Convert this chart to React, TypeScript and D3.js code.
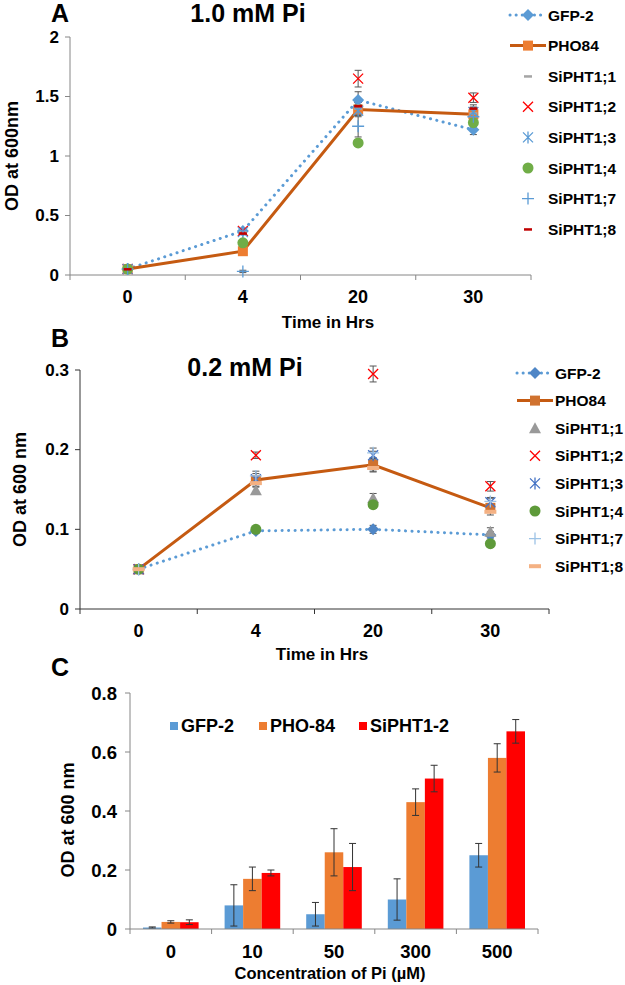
import React from "react";
import * as d3 from "d3";

const FONT = "'Liberation Sans', Arial, sans-serif";

// Panels A & B: time categories
const timeCats = ["0", "4", "20", "30"];
const seriesNames = ["GFP-2", "PHO84", "SiPHT1;1", "SiPHT1;2", "SiPHT1;3", "SiPHT1;4", "SiPHT1;7", "SiPHT1;8"];

// Panel A (1.0 mM Pi)
const aGFP = [0.05, 0.37, 1.47, 1.22];
const aGFPErr = [0.01, 0.02, 0.07, 0.04];
const aPHO = [0.05, 0.2, 1.39, 1.35];
const aPHOErr = [0.01, 0.01, 0.04, 0.03];
const aS1 = [0.05, 0.36, 1.4, 1.36];
const aS1Err = [0.01, 0.02, 0.05, 0.05];
const aS2 = [0.05, 0.37, 1.65, 1.49];
const aS2Err = [0.01, 0.02, 0.07, 0.04];
const aS3 = [0.05, 0.36, 1.38, 1.37];
const aS3Err = [0.01, 0.02, 0.05, 0.04];
const aS4 = [0.05, 0.27, 1.11, 1.28];
const aS4Err = [0.01, 0.01, 0.02, 0.03];
const aS7 = [0.05, 0.03, 1.25, 1.33];
const aS7Err = [0.01, 0.01, 0.09, 0.04];
const aS8 = [0.05, 0.35, 1.42, 1.4];
const aS8Err = [0.01, 0.01, 0.03, 0.03];
const aTicks = [0, 0.5, 1, 1.5, 2];

// Panel B (0.2 mM Pi)
const bGFP = [0.05, 0.098, 0.1, 0.093];
const bGFPErr = [0.002, 0.002, 0.005, 0.004];
const bPHO = [0.05, 0.162, 0.181, 0.127];
const bPHOErr = [0.002, 0.005, 0.008, 0.005];
const bS1 = [0.05, 0.149, 0.139, 0.097];
const bS1Err = [0.002, 0.004, 0.006, 0.005];
const bS2 = [0.05, 0.193, 0.295, 0.154];
const bS2Err = [0.002, 0.004, 0.01, 0.006];
const bS3 = [0.05, 0.163, 0.193, 0.134];
const bS3Err = [0.002, 0.007, 0.005, 0.006];
const bS4 = [0.05, 0.1, 0.131, 0.082];
const bS4Err = [0.002, 0.002, 0.004, 0.002];
const bS7 = [0.05, 0.167, 0.196, 0.135];
const bS7Err = [0.002, 0.006, 0.006, 0.004];
const bS8 = [0.05, 0.158, 0.177, 0.122];
const bS8Err = [0.002, 0.004, 0.005, 0.004];
const bTicks = [0, 0.1, 0.2, 0.3];

// Panel C
const concCats = ["0", "10", "50", "300", "500"];
const barSeries = ["GFP-2", "PHO-84", "SiPHT1-2"];
const cGFP = [0.005, 0.08, 0.05, 0.1, 0.25];
const cGFPErr = [0.002, 0.07, 0.04, 0.07, 0.04];
const cPHO = [0.024, 0.17, 0.26, 0.43, 0.58];
const cPHOErr = [0.004, 0.04, 0.08, 0.045, 0.048];
const cSi = [0.023, 0.19, 0.21, 0.51, 0.67];
const cSiErr = [0.008, 0.01, 0.08, 0.045, 0.04];
const cTicks = [0, 0.2, 0.4, 0.6, 0.8];
const barColors = ["#5B9BD5", "#ED7D31", "#FF0000"];

type Style = { kind: string; color: string; line?: string; dotted?: boolean };

const stylesA: Style[] = [
  { kind: "diamond", color: "#5B9BD5", line: "#5B9BD5", dotted: true },
  { kind: "square", color: "#ED7D31", line: "#C55A11" },
  { kind: "dash", color: "#A5A5A5" },
  { kind: "x", color: "#FF0000" },
  { kind: "star", color: "#5B9BD5" },
  { kind: "circle", color: "#70AD47" },
  { kind: "plus", color: "#5B9BD5" },
  { kind: "dash", color: "#C00000" },
];
const stylesB: Style[] = [
  { kind: "diamond", color: "#4F86C6", line: "#5B9BD5", dotted: true },
  { kind: "square", color: "#D0722F", line: "#C55A11" },
  { kind: "triangle", color: "#999999" },
  { kind: "x", color: "#FF0000" },
  { kind: "star", color: "#4472C4" },
  { kind: "circle", color: "#5E9A3A" },
  { kind: "plus", color: "#9DC3E6" },
  { kind: "bigdash", color: "#F4B183" },
];

function Marker({ kind, color, x, y }: { kind: string; color: string; x: number; y: number }) {
  switch (kind) {
    case "diamond":
      return <path d={`M${x},${y - 6}L${x + 6},${y}L${x},${y + 6}L${x - 6},${y}Z`} fill={color} />;
    case "square":
      return <rect x={x - 5} y={y - 5} width={10} height={10} fill={color} />;
    case "circle":
      return <circle cx={x} cy={y} r={5.5} fill={color} />;
    case "triangle":
      return <path d={`M${x},${y - 6}L${x + 6},${y + 5}L${x - 6},${y + 5}Z`} fill={color} />;
    case "x":
      return <path d={`M${x - 5},${y - 5}L${x + 5},${y + 5}M${x + 5},${y - 5}L${x - 5},${y + 5}`} stroke={color} strokeWidth={1.3} />;
    case "plus":
      return <path d={`M${x - 6},${y}L${x + 6},${y}M${x},${y - 6}L${x},${y + 6}`} stroke={color} strokeWidth={1.3} />;
    case "star":
      return (
        <path
          d={`M${x - 5},${y - 5}L${x + 5},${y + 5}M${x + 5},${y - 5}L${x - 5},${y + 5}M${x},${y - 6}L${x},${y + 6}`}
          stroke={color}
          strokeWidth={1.3}
        />
      );
    case "dash":
      return <rect x={x - 4} y={y - 1} width={8} height={2.5} fill={color} />;
    case "bigdash":
      return <rect x={x - 6} y={y - 2} width={12} height={4} fill={color} />;
    default:
      return null;
  }
}

type LinePanelProps = {
  label: string;
  title: string;
  titleX: number;
  titleY: number;
  labelY: number;
  values: number[][];
  errors: number[][];
  styles: Style[];
  x0: number;
  x1: number;
  yTop: number;
  yBottom: number;
  yMax: number;
  ticks: number[];
  axisColor: string;
  yTitle: string;
  yTitleX: number;
  xTitleX: number;
  xTitleY: number;
  legendX: number;
  legendY: number;
  legendStep: number;
};

function LinePanel(p: LinePanelProps) {
  const x = d3.scaleBand<string>().domain(timeCats).range([p.x0, p.x1]).padding(0);
  const y = d3.scaleLinear().domain([0, p.yMax]).range([p.yBottom, p.yTop]);
  const cx = (c: string) => (x(c) as number) + x.bandwidth() / 2;
  const line = d3
    .line<number>()
    .x((_, i) => cx(timeCats[i]))
    .y((d) => y(d));
  const boundaries = [...timeCats.map((c) => x(c) as number), p.x1];
  const legendTextX = p.legendX + 38;
  return (
    <g>
      <text x={60} y={p.labelY} fontSize={25} fontWeight="bold" textAnchor="middle" dominantBaseline="central">
        {p.label}
      </text>
      <text x={p.titleX} y={p.titleY} fontSize={25} fontWeight="bold" textAnchor="middle" dominantBaseline="central">
        {p.title}
      </text>
      {/* axes */}
      <line x1={p.x0} x2={p.x0} y1={p.yTop} y2={p.yBottom} stroke={p.axisColor} strokeWidth={1} />
      <line x1={p.x0} x2={p.x1} y1={p.yBottom} y2={p.yBottom} stroke={p.axisColor} strokeWidth={1} />
      {p.ticks.map((t) => (
        <g key={t}>
          <line x1={p.x0 - 5} x2={p.x0} y1={y(t)} y2={y(t)} stroke={p.axisColor} />
          <text x={p.x0 - 11} y={y(t)} fontSize={17} fontWeight="bold" textAnchor="end" dominantBaseline="central">
            {t}
          </text>
        </g>
      ))}
      {boundaries.map((b, i) => (
        <line key={i} x1={b} x2={b} y1={p.yBottom} y2={p.yBottom + 5} stroke={p.axisColor} />
      ))}
      {timeCats.map((c) => (
        <text key={c} x={cx(c)} y={p.yBottom + 22} fontSize={18} fontWeight="bold" textAnchor="middle" dominantBaseline="central">
          {c}
        </text>
      ))}
      <text x={p.xTitleX} y={p.xTitleY} fontSize={17} fontWeight="bold" textAnchor="middle" dominantBaseline="central">
        Time in Hrs
      </text>
      <text
        transform={`translate(${p.yTitleX},${(p.yTop + p.yBottom) / 2}) rotate(-90)`}
        fontSize={18}
        fontWeight="bold"
        textAnchor="middle"
        dominantBaseline="central"
      >
        {p.yTitle}
      </text>
      {/* lines */}
      {p.values.map((vals, si) =>
        p.styles[si].line ? (
          <path
            key={"l" + si}
            d={line(vals) as string}
            fill="none"
            stroke={p.styles[si].line}
            strokeWidth={3}
            strokeDasharray={p.styles[si].dotted ? "0.1 6.4" : undefined}
            strokeLinecap={p.styles[si].dotted ? "round" : "butt"}
          />
        ) : null
      )}
      {/* error bars */}
      {p.values.map((vals, si) =>
        vals.map((v, i) => {
          const e = p.errors[si][i];
          const xx = cx(timeCats[i]);
          return (
            <path
              key={`e${si}-${i}`}
              d={`M${xx},${y(v - e)}V${y(v + e)}M${xx - 3.5},${y(v - e)}H${xx + 3.5}M${xx - 3.5},${y(v + e)}H${xx + 3.5}`}
              stroke="#555"
              strokeWidth={1}
              fill="none"
            />
          );
        })
      )}
      {/* markers */}
      {p.values.map((vals, si) =>
        vals.map((v, i) => (
          <Marker key={`m${si}-${i}`} kind={p.styles[si].kind} color={p.styles[si].color} x={cx(timeCats[i])} y={y(v)} />
        ))
      )}
      {/* legend */}
      {seriesNames.map((n, i) => {
        const ly = p.legendY + i * p.legendStep;
        const st = p.styles[i];
        const mx = p.legendX + 18;
        return (
          <g key={n}>
            {st.line ? (
              <line
                x1={p.legendX}
                x2={p.legendX + 36}
                y1={ly}
                y2={ly}
                stroke={st.line}
                strokeWidth={3}
                strokeDasharray={st.dotted ? "0.1 6" : undefined}
                strokeLinecap={st.dotted ? "round" : "butt"}
              />
            ) : null}
            <Marker kind={st.kind} color={st.color} x={mx} y={ly} />
            <text x={legendTextX} y={ly} fontSize={15.5} fontWeight="bold" dominantBaseline="central">
              {n}
            </text>
          </g>
        );
      })}
    </g>
  );
}

function BarPanel() {
  const x0 = 130,
    x1 = 538,
    yTop = 693,
    yBottom = 929;
  const x = d3.scaleBand<string>().domain(concCats).range([x0, x1]).padding(0);
  const inner = d3.scaleBand<string>().domain(barSeries).range([13, x.bandwidth() - 13]).padding(0);
  const y = d3.scaleLinear().domain([0, 0.8]).range([yBottom, yTop]);
  const vals = [cGFP, cPHO, cSi];
  const errs = [cGFPErr, cPHOErr, cSiErr];
  const boundaries = [...concCats.map((c) => x(c) as number), x1];
  const legendItems = [
    { x: 170, tx: 181 },
    { x: 259, tx: 270 },
    { x: 359, tx: 370 },
  ];
  return (
    <g>
      <text x={60} y={667} fontSize={25} fontWeight="bold" textAnchor="middle" dominantBaseline="central">
        C
      </text>
      {vals.map((sv, si) =>
        sv.map((v, i) => {
          const bx = (x(concCats[i]) as number) + (inner(barSeries[si]) as number);
          return <rect key={`b${si}-${i}`} x={bx} y={y(v)} width={inner.bandwidth()} height={yBottom - y(v)} fill={barColors[si]} />;
        })
      )}
      {vals.map((sv, si) =>
        sv.map((v, i) => {
          const e = errs[si][i];
          const bx = (x(concCats[i]) as number) + (inner(barSeries[si]) as number) + inner.bandwidth() / 2;
          return (
            <path
              key={`e${si}-${i}`}
              d={`M${bx},${y(v - e)}V${y(v + e)}M${bx - 3.5},${y(v - e)}H${bx + 3.5}M${bx - 3.5},${y(v + e)}H${bx + 3.5}`}
              stroke="#333"
              strokeWidth={1}
              fill="none"
            />
          );
        })
      )}
      <line x1={x0} x2={x0} y1={yTop} y2={yBottom} stroke="#868686" />
      <line x1={x0} x2={x1} y1={yBottom} y2={yBottom} stroke="#868686" />
      {cTicks.map((t) => (
        <g key={t}>
          <line x1={x0 - 5} x2={x0} y1={y(t)} y2={y(t)} stroke="#868686" />
          <text x={x0 - 13} y={y(t)} fontSize={18.5} fontWeight="bold" textAnchor="end" dominantBaseline="central">
            {t}
          </text>
        </g>
      ))}
      {boundaries.map((b, i) => (
        <line key={i} x1={b} x2={b} y1={yBottom} y2={yBottom + 5} stroke="#868686" />
      ))}
      {concCats.map((c) => (
        <text key={c} x={(x(c) as number) + x.bandwidth() / 2} y={951} fontSize={18.5} fontWeight="bold" textAnchor="middle" dominantBaseline="central">
          {c}
        </text>
      ))}
      <text x={330} y={973} fontSize={16.5} fontWeight="bold" textAnchor="middle" dominantBaseline="central">
        Concentration of Pi (µM)
      </text>
      <text transform={`translate(68,820) rotate(-90)`} fontSize={18} fontWeight="bold" textAnchor="middle" dominantBaseline="central">
        OD at 600 nm
      </text>
      {barSeries.map((n, i) => (
        <g key={n}>
          <rect x={legendItems[i].x} y={722} width={8} height={8} fill={barColors[i]} />
          <text x={legendItems[i].tx} y={726} fontSize={18} fontWeight="bold" dominantBaseline="central">
            {n}
          </text>
        </g>
      ))}
    </g>
  );
}

export default function App() {
  return (
    <svg
      width={625}
      height={985}
      style={{ position: "absolute", left: 0, top: 0, background: "#fff" }}
      fontFamily={FONT}
    >
      <rect width={625} height={985} fill="#fff" />
      <LinePanel
        label="A"
        title="1.0 mM Pi"
        titleX={248}
        titleY={13}
        labelY={13}
        values={[aGFP, aPHO, aS1, aS2, aS3, aS4, aS7, aS8]}
        errors={[aGFPErr, aPHOErr, aS1Err, aS2Err, aS3Err, aS4Err, aS7Err, aS8Err]}
        styles={stylesA}
        x0={70}
        x1={531}
        yTop={37}
        yBottom={275}
        yMax={2}
        ticks={aTicks}
        axisColor="#868686"
        yTitle="OD at 600nm"
        yTitleX={12}
        xTitleX={328}
        xTitleY={322}
        legendX={510}
        legendY={15}
        legendStep={30.6}
      />
      <LinePanel
        label="B"
        title="0.2 mM Pi"
        titleX={245}
        titleY={367}
        labelY={338}
        values={[bGFP, bPHO, bS1, bS2, bS3, bS4, bS7, bS8]}
        errors={[bGFPErr, bPHOErr, bS1Err, bS2Err, bS3Err, bS4Err, bS7Err, bS8Err]}
        styles={stylesB}
        x0={80}
        x1={549}
        yTop={370}
        yBottom={609}
        yMax={0.3}
        ticks={bTicks}
        axisColor="#333"
        yTitle="OD at 600 nm"
        yTitleX={20}
        xTitleX={322}
        xTitleY={654}
        legendX={517}
        legendY={373}
        legendStep={27.6}
      />
      <BarPanel />
    </svg>
  );
}
